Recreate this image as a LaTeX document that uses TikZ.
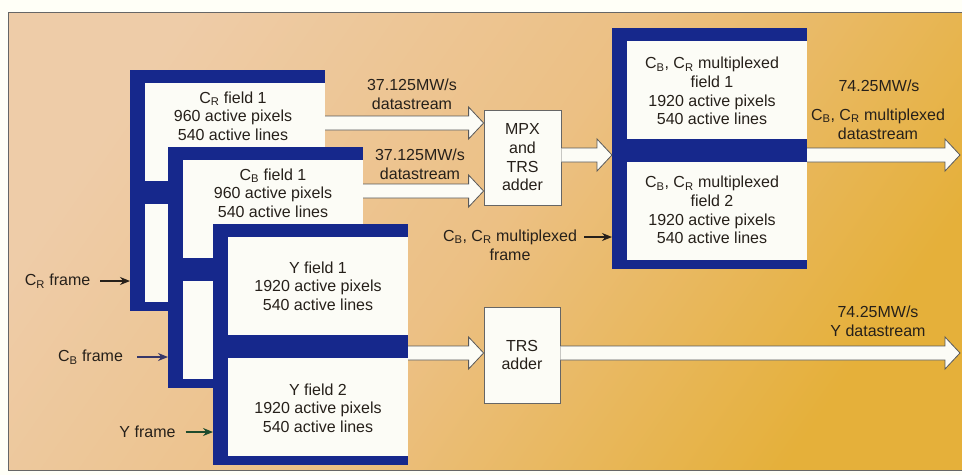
\documentclass[tikz,border=0pt]{standalone}
\usepackage{fontspec}
\setmainfont{Liberation Sans}
\usepackage{xcolor}
\usetikzlibrary{calc,arrows.meta}

\definecolor{frameblue}{RGB}{22,40,140}
\definecolor{peach}{RGB}{238,204,168}
\definecolor{tanbg}{RGB}{236,192,132}
\definecolor{gold}{RGB}{229,176,58}
\definecolor{ink}{RGB}{38,32,26}
\definecolor{inkblue}{RGB}{55,55,105}
\definecolor{inkgreen}{RGB}{30,75,45}
\definecolor{paper}{RGB}{252,252,246}

% hollow arrow between two points at the height of the first
\newcommand{\fatarrow}[2]{%
  \filldraw[fatline] let \p1=#1, \p2=#2 in
    (\x1,\y1-7pt) -- (\x2-15pt,\y1-7pt) -- (\x2-15pt,\y1-16pt) -- (\x2,\y1)
    -- (\x2-15pt,\y1+16pt) -- (\x2-15pt,\y1+7pt) -- (\x1,\y1+7pt);}

\begin{document}
\begin{tikzpicture}[x=1pt, y=-1pt,
  frame/.style={fill=frameblue, anchor=north west, minimum width=195pt, minimum height=241pt, inner sep=0pt, outer sep=0pt},
  field/.style={fill=paper, anchor=north west, minimum width=180pt, minimum height=98pt, inner sep=0pt, outer sep=0pt},
  txt/.style={align=center, text=ink, inner sep=1pt, font=\fontsize{16}{18.7}\selectfont},
  adder/.style={txt, draw=black!60, line width=0.8pt, fill=paper, minimum width=77pt, minimum height=95pt},
  fatline/.style={draw=black!65, line width=0.8pt, fill=paper},
  ptr/.style={-{Stealth[length=10pt,width=8pt]}, line width=1.2pt}]
\useasboundingbox (0,0) rectangle (962,475);
\fill[white!97!yellow] (0,0) rectangle (962,475);

% Background panel
\shade[left color=peach, right color=gold, middle color=tanbg, shading angle=55] (8,12) rectangle (962,470);
\draw[black!60, line width=0.8pt] (962,12) -- (8,12) -- (8,470) -- (962,470);

% C_R frame
\node[frame] (crframe) at (130,70) {};
\node[field] (crtop) at (145,83) {};
\node[field] (crbot) at (145,204) {};
\node[txt] (crtext) at (233,116) {C\textsubscript{R} field 1\\960 active pixels\\540 active lines};

% C_B frame
\node[frame] (cbframe) at (168,147) {};
\node[field] (cbtop) at (183,160) {};
\node[field] (cbbot) at (183,281) {};
\node[txt] (cbtext) at (273,193) {C\textsubscript{B} field 1\\960 active pixels\\540 active lines};

% Y frame
\node[frame] (yframe) at (213,224) {};
\node[field] (ytop) at (228,237) {};
\node[field] (ybot) at (228,358) {};
\node[txt] (ytexta) at (318,286) {Y field 1\\1920 active pixels\\540 active lines};
\node[txt] (ytextb) at (318,408) {Y field 2\\1920 active pixels\\540 active lines};

% Multiplexed frame
\node[frame] (muxframe) at (612,28) {};
\node[field] (muxtop) at (627,41) {};
\node[field] (muxbot) at (627,162) {};
\node[txt] (muxtexta) at (712,91) {C\textsubscript{B}, C\textsubscript{R} multiplexed\\field 1\\1920 active pixels\\540 active lines};
\node[txt] (muxtextb) at (712,210) {C\textsubscript{B}, C\textsubscript{R} multiplexed\\field 2\\1920 active pixels\\540 active lines};

% Adders
\node[adder] (mpx) at (522.5,157.5) {MPX\\and\\TRS\\adder};
\node[adder, minimum width=76pt, minimum height=96pt] (trs) at (522,355) {TRS\\adder};

% Datastreams
\coordinate (muxout) at (960,155);
\coordinate (yout) at (960,353);
\fatarrow{(crframe.east |- 0,123)}{(mpx.west |- 0,123)}
\fatarrow{(cbframe.east |- 0,191)}{(mpx.west |- 0,191)}
\fatarrow{(mpx.east |- 0,155)}{(muxframe.west |- 0,155)}
\fatarrow{(muxframe.east |- muxout)}{(muxout)}
\fatarrow{(yframe.east |- yout)}{(trs.west |- yout)}
\fatarrow{(trs.east |- yout)}{(yout)}

% Rate labels
\node[txt] (rateone) at (412,94.5) {37.125MW/s\\datastream};
\node[txt] (ratetwo) at (420,164) {37.125MW/s\\datastream};
\node[txt] (ratemux) at (879,86) {74.25MW/s};
\node[txt] (namemux) at (878,124) {C\textsubscript{B}, C\textsubscript{R} multiplexed\\datastream};
\node[txt] (ratey) at (878,321.5) {74.25MW/s\\Y datastream};

% Frame labels
\node[txt] (crlabel) at (57.5,281) {C\textsubscript{R} frame};
\node[txt] (cblabel) at (90.5,357) {C\textsubscript{B} frame};
\node[txt] (ylabel) at (147.5,432) {Y frame};
\node[txt] (muxlabel) at (510,245) {C\textsubscript{B}, C\textsubscript{R} multiplexed\\frame};
\coordinate (muxptr) at ([shift={(6pt,8pt)}]muxlabel.east);

\draw[ptr, ink] ([xshift=9pt]crlabel.east) -- (crlabel -| crframe.west);
\draw[ptr, inkblue] ([xshift=13pt]cblabel.east) -- (cblabel -| cbframe.west);
\draw[ptr, inkgreen] ([xshift=9pt]ylabel.east) -- (ylabel -| yframe.west);
\draw[ptr, ink] (muxptr) -- (muxptr -| muxframe.west);
\end{tikzpicture}
\end{document}
